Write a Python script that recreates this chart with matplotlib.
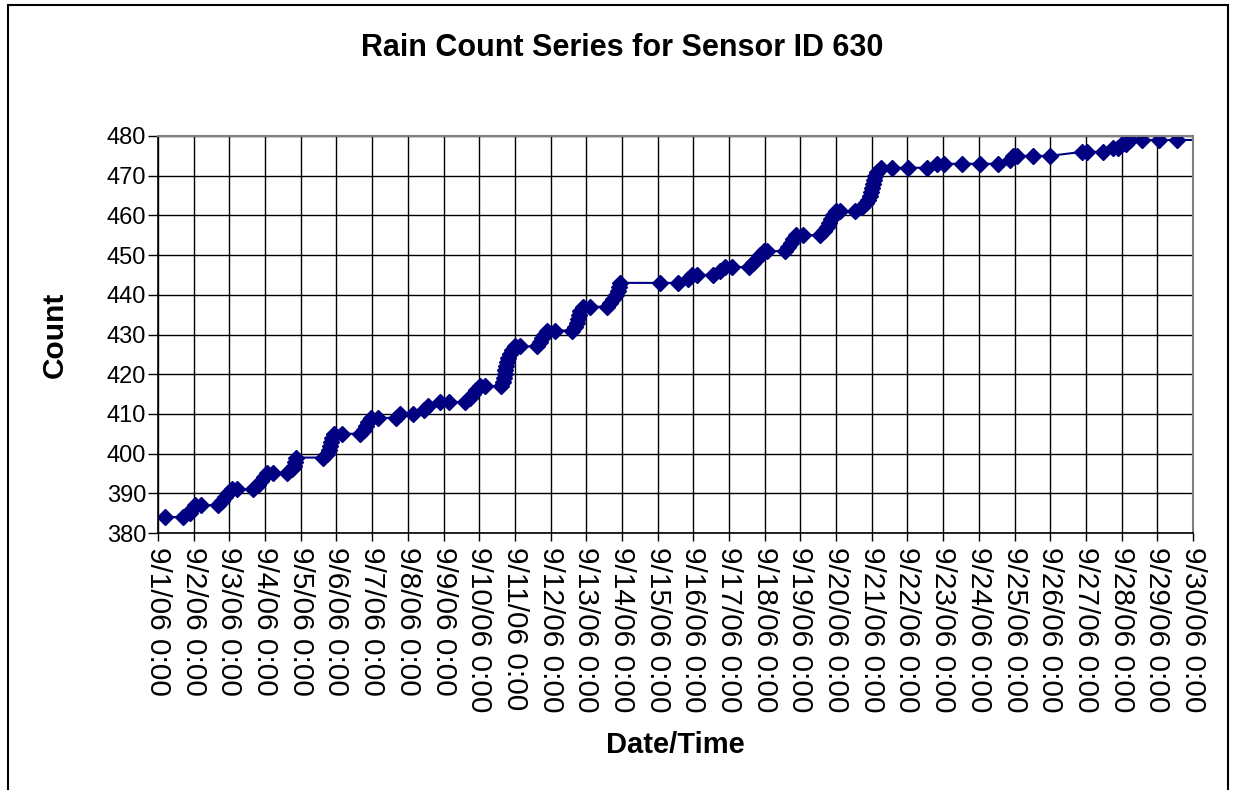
import matplotlib
matplotlib.use('Agg')
import matplotlib.pyplot as plt
from matplotlib.patches import Rectangle

plt.rcParams['font.family'] = ['Liberation Sans', 'DejaVu Sans']

# days since 9/1/06 0:00 and rain count at that time
days = [0.20, 0.70, 0.90, 0.95, 1.04, 1.20, 1.68, 1.79, 1.88, 1.96, 2.07, 2.21,
        2.66, 2.80, 2.89, 2.97, 3.05, 3.22, 3.61, 3.75, 3.81, 3.84, 3.87, 4.62,
        4.74, 4.79, 4.82, 4.85, 4.88, 4.93, 5.16, 5.66, 5.77, 5.83, 5.88, 5.97,
        6.16, 6.67, 6.78, 7.14, 7.45, 7.57, 7.90, 8.15, 8.60, 8.74, 8.83, 8.91,
        9.02, 9.16, 9.61, 9.67, 9.69, 9.72, 9.73, 9.75, 9.78, 9.81, 9.86, 9.92,
        10.00, 10.14, 10.62, 10.70, 10.76, 10.82, 10.90, 11.12, 11.60, 11.68,
        11.74, 11.77, 11.80, 11.82, 11.91, 12.10, 12.58, 12.66, 12.75, 12.83,
        12.89, 12.92, 12.94, 14.07, 14.57, 14.85, 14.96, 15.10, 15.55, 15.75,
        15.89, 16.08, 16.56, 16.67, 16.78, 16.87, 16.98, 17.06, 17.57, 17.65,
        17.74, 17.79, 17.88, 18.07, 18.55, 18.66, 18.74, 18.80, 18.86, 18.91,
        19.00, 19.11, 19.53, 19.73, 19.84, 19.89, 19.95, 19.98, 20.01, 20.03,
        20.06, 20.09, 20.15, 20.26, 20.57, 21.01, 21.55, 21.83, 22.02, 22.53,
        23.03, 23.54, 23.87, 23.96, 24.07, 24.52, 24.99, 25.89, 26.03, 26.48,
        26.76, 26.90, 27.01, 27.12, 27.23, 27.57, 28.05, 28.55, 29.20]
counts = [384, 384, 385, 386, 387, 387, 387, 388, 389, 390, 391, 391,
          391, 392, 393, 394, 395, 395, 395, 396, 397, 398, 399, 399,
          400, 401, 402, 403, 404, 405, 405, 405, 406, 407, 408, 409,
          409, 409, 410, 410, 411, 412, 413, 413, 413, 414, 415, 416,
          417, 417, 417, 418, 419, 420, 421, 422, 423, 424, 425, 426,
          427, 427, 427, 428, 429, 430, 431, 431, 431, 432,
          433, 434, 435, 436, 437, 437, 437, 438, 439, 440,
          441, 442, 443, 443, 443, 444, 445, 445, 445, 446,
          447, 447, 447, 448, 449, 450, 451, 451, 451, 452,
          453, 454, 455, 455, 455, 456, 457, 458, 459, 460,
          461, 461, 461, 462, 463, 464, 465, 466, 467, 468,
          469, 470, 471, 472, 472, 472, 472, 473, 473, 473,
          473, 473, 474, 475, 475, 475, 475, 476, 476, 476,
          477, 477, 478, 478, 479, 479, 479, 479, 479]

tick_days = list(range(30))
tick_labels = ['9/%d/06 0:00' % (d + 1) for d in tick_days]
y_ticks = list(range(380, 481, 10))

fig = plt.figure(figsize=(12.35, 7.9), dpi=100)
ax = fig.add_axes([158/1235, 1 - 533/790, 1035/1235, 397/790])

ax.plot(days, counts, color='#000080', lw=1.5, marker='D', ms=8,
        mec='#000080', mfc='#000080')

ax.set_xlim(0, 29)
ax.set_ylim(380, 480)
ax.set_xticks(tick_days)
ax.set_xticklabels(tick_labels, rotation=270, fontsize=21.5)
ax.set_yticks(y_ticks)
ax.set_yticklabels([str(v) for v in y_ticks], fontsize=17)
ax.grid(True, color='black', lw=1.0)
ax.set_axisbelow(True)
ax.tick_params(axis='y', direction='out', length=7, width=1, pad=1.5)
ax.tick_params(axis='x', direction='out', length=6, width=1, pad=4)
for s in ['top', 'right']:
    ax.spines[s].set_color('#808080')
    ax.spines[s].set_linewidth(1.5)
for s in ['left', 'bottom']:
    ax.spines[s].set_color('black')
    ax.spines[s].set_linewidth(1.2)

fig.text(622/1235, 1 - 48/790, 'Rain Count Series for Sensor ID 630',
         ha='center', va='center', fontsize=22, fontweight='bold')
fig.text(55/1235, 1 - 335/790, 'Count', rotation=90,
         ha='center', va='center', fontsize=21.5, fontweight='bold')
fig.text(675/1235, 1 - 745/790, 'Date/Time',
         ha='center', va='center', fontsize=21, fontweight='bold')

# outer chart border
fig.patches.append(Rectangle((8/1235, -0.02), 1220/1235, 1.02 - 5/790,
                             transform=fig.transFigure, fill=False,
                             ec='black', lw=1.5))

fig.savefig('out.png', dpi=100)
